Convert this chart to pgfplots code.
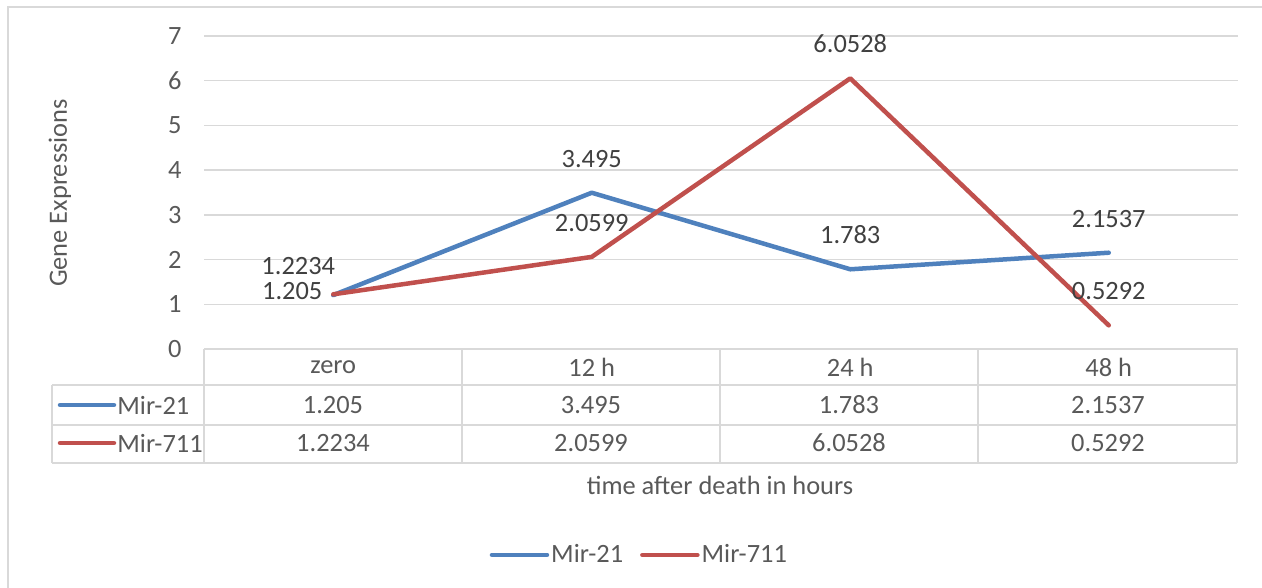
\documentclass[border=0pt]{standalone}
\usepackage{pgfplots}
\pgfplotsset{compat=1.18}
\usepackage{fontspec}
\setmainfont{Carlito}
\definecolor{blueS}{HTML}{4F81BD}
\definecolor{redS}{HTML}{C0504D}
\definecolor{txt}{HTML}{595959}
\definecolor{lbl}{HTML}{404040}
\definecolor{gridc}{HTML}{D9D9D9}
\newcommand{\fs}{\fontsize{13.2}{16}\selectfont}
\begin{document}
\begin{tikzpicture}[font=\fs]
\begin{scope}[x=0.5pt,y=-0.5pt]
\useasboundingbox (0,0) rectangle (1262,588);
\draw[gridc, line width=0.9pt] (8,588) -- (8,7) -- (1262,7);
% data table grid
\draw[gridc, line width=0.75pt] (52,385) -- (1237,385) (52,425) -- (1237,425) (52,463) -- (1237,463);
\draw[gridc, line width=0.75pt] (52,385) -- (52,463);
\foreach \x in {204,462,720,978,1237} \draw[gridc, line width=0.75pt] (\x,349) -- (\x,463);
% row keys
\draw[blueS, line width=2.25pt, line cap=round] (60,405) -- (114,405);
\draw[redS, line width=2.25pt, line cap=round] (60,443) -- (114,443);
\node[anchor=west, inner sep=0pt, text=txt] at (117,405) {Mir-21};
\node[anchor=west, inner sep=0pt, text=txt] at (117,443) {Mir-711};
% table values
\node[text=txt] at (333,405) {1.205};
\node[text=txt] at (591,405) {3.495};
\node[text=txt] at (849,405) {1.783};
\node[text=txt] at (1108,405) {2.1537};
\node[text=txt] at (333,443) {1.2234};
\node[text=txt] at (591,443) {2.0599};
\node[text=txt] at (849,443) {6.0528};
\node[text=txt] at (1108,443) {0.5292};
% titles
\node[rotate=90, text=txt] at (60,193) {Gene Expressions};
\node[text=txt] at (720,485) {time after death in hours};
\end{scope}
\begin{axis}[
 at={(102pt,-174.5pt)}, anchor=south west,
 scale only axis, width=517pt, height=156.5pt,
 xmin=-0.5, xmax=3.5, ymin=0, ymax=7,
 ytick={0,...,7}, xtick={0,1,2,3}, xticklabels={zero,12 h,24 h,48 h},
 axis line style={draw=none}, major tick length=0pt,
 ymajorgrids, grid style={gridc, line width=0.75pt},
 tick label style={font=\fs, text=txt},
 /pgf/number format/assume math mode=true,
 yticklabel style={anchor=east, inner sep=0pt, xshift=-11pt},
 xticklabel style={anchor=center, inner sep=0pt, yshift=-9pt},
 clip=false,
 nodes near coords, point meta=explicit symbolic,
 every node near coord/.style={font=\fs, text=lbl, anchor=base, yshift=12.75pt, inner sep=0pt},
 every axis plot/.append style={line width=2.25pt, line cap=round, line join=round},
 legend columns=2,
 legend style={at={(0.421,-0.658)}, anchor=center, draw=none, fill=none, font=\fs, text=txt,
   /tikz/every even column/.append style={column sep=7.5pt}, nodes={inner sep=1pt}},
 legend image code/.code={\draw[#1, line cap=round] (0pt,0pt) -- (27.5pt,0pt);},
]
\addplot[blueS, coordinate style/.condition={x==0}{xshift=-20.5pt, yshift=-14.75pt}]
 coordinates {(0,1.205)[1.205] (1,3.495)[3.495] (2,1.783)[1.783] (3,2.1537)[2.1537]};
\addlegendentry{Mir-21}
\addplot[redS, coordinate style/.condition={x==0}{xshift=-17.5pt, yshift=-2.75pt}]
 coordinates {(0,1.2234)[1.2234] (1,2.0599)[2.0599] (2,6.0528)[6.0528] (3,0.5292)[0.5292]};
\addlegendentry{Mir-711}
\end{axis}
\end{tikzpicture}
\end{document}
